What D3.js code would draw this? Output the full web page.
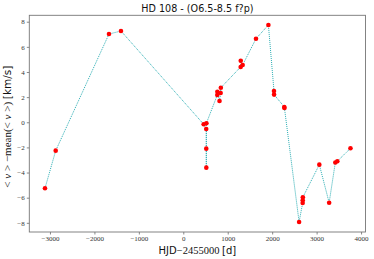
<!DOCTYPE html>
<html>
<head>
<meta charset="utf-8">
<script src="https://cdn.jsdelivr.net/npm/d3@7"></script>
<style>
  html, body { margin: 0; padding: 0; background: #fff; }
  svg { display: block; }
</style>
</head>
<body>
<svg id="chart" width="374" height="259"></svg>
<script>
const hjd = [-3112, -2871, -1672, -1402, 459, 516, 517, 518, 520, 765, 767, 815, 841, 845,
             1291, 1293, 1336, 1636, 1915, 2041, 2043, 2273, 2276, 2606, 2686, 2688, 2690,
             3061, 3282, 3421, 3466, 3762];
const dv = [-5.25, -2.26, 7.02, 7.26, -0.16, -0.53, -2.10, -3.61, -0.08, 2.17, 2.43, 1.69, 2.33, 2.75,
            4.40, 4.90, 4.56, 6.65, 7.74, 2.49, 2.20, 1.22, 1.14, -7.93, -6.42, -6.20, -5.97,
            -3.37, -6.40, -3.20, -3.10, -2.07];
const xTicks = [-3000, -2000, -1000, 0, 1000, 2000, 3000, 4000];
const yTicks = [-8, -6, -4, -2, 0, 2, 4, 6, 8];
const title = "HD 108 - (O6.5-8.5 f?p)";

const svg = d3.select("#chart");
const L = 29.3, R = 365.5, T = 15.3, B = 232;
const x = d3.scaleLinear().domain([-3465, 4100]).range([L, R]);
const y = d3.scaleLinear().domain([-8.73, 8.51]).range([B, T]);

const serif = "'Liberation Serif', 'DejaVu Serif', serif";
const sans = "'DejaVu Sans', 'Liberation Sans', sans-serif";

// axes
const xAxis = d3.axisBottom(x).tickValues(xTicks).tickSize(2.5).tickPadding(1.5)
  .tickFormat(d => d < 0 ? "\u2212" + Math.abs(d) : String(d));
const yAxis = d3.axisLeft(y).tickValues(yTicks).tickSize(2.5).tickPadding(2)
  .tickFormat(d => d < 0 ? "\u2212" + Math.abs(d) : String(d));

const gx = svg.append("g").attr("transform", `translate(0,${B})`).call(xAxis);
const gy = svg.append("g").attr("transform", `translate(${L},0)`).call(yAxis);
[gx, gy].forEach(g => {
  g.select(".domain").remove();
  g.selectAll(".tick line").attr("stroke", "#555").attr("stroke-width", 0.7);
  g.selectAll(".tick text").attr("font-family", serif).attr("font-size", 7).attr("fill", "#333");
});

// frame
svg.append("rect").attr("x", L).attr("y", T).attr("width", R - L).attr("height", B - T)
  .attr("fill", "none").attr("stroke", "#777").attr("stroke-width", 0.9);

// line
const pts = hjd.map((h, i) => [h, dv[i]]);
svg.append("path").datum(pts)
  .attr("d", d3.line().x(d => x(d[0])).y(d => y(d[1])))
  .attr("fill", "none").attr("stroke", "#2aaeb4").attr("stroke-width", 1)
  .attr("stroke-dasharray", "1,1");

// points
svg.append("g").selectAll("circle").data(pts).join("circle")
  .attr("cx", d => x(d[0])).attr("cy", d => y(d[1])).attr("r", 2.3)
  .attr("fill", "#ff0000");

// title
svg.append("text").attr("x", (L + R) / 2).attr("y", 12).attr("text-anchor", "middle")
  .attr("font-family", sans).attr("font-size", 9.6).attr("fill", "#111").text(title);

// x label
const xl = svg.append("text").attr("x", (L + R) / 2).attr("y", 254).attr("text-anchor", "middle")
  .attr("font-size", 10.5).attr("fill", "#111");
xl.append("tspan").attr("font-family", sans).attr("font-size", 10).text("HJD");
xl.append("tspan").attr("font-family", serif).text("\u22122455000 ");
xl.append("tspan").attr("font-family", sans).attr("font-size", 10).text("[d]");

// y label
const yl = svg.append("text").attr("transform", `translate(11,${(T + B) / 2 + 3}) rotate(-90)`)
  .attr("text-anchor", "middle").attr("font-size", 11).attr("fill", "#111");
yl.append("tspan").attr("font-family", serif).text("< ");
yl.append("tspan").attr("font-family", serif).attr("font-style", "italic").text("v");
yl.append("tspan").attr("font-family", serif).text(" > \u2212mean(< ");
yl.append("tspan").attr("font-family", serif).attr("font-style", "italic").text("v");
yl.append("tspan").attr("font-family", serif).text(" >) ");
yl.append("tspan").attr("font-family", sans).attr("font-size", 10.5).text("[km/s]");
</script>
</body>
</html>
